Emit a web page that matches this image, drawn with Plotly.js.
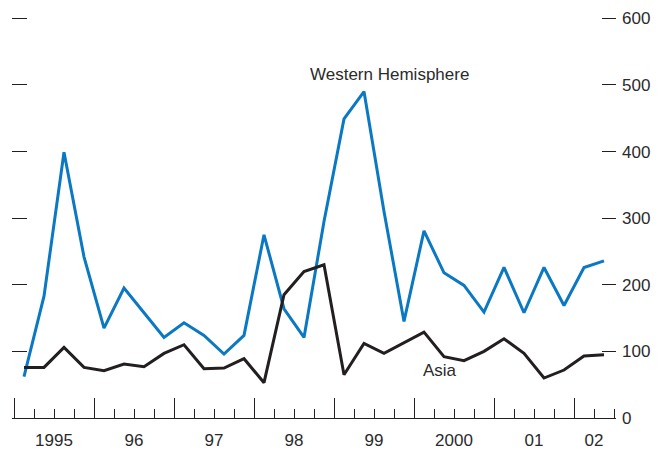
<!DOCTYPE html>
<html>
<head>
<meta charset="utf-8">
<script src="https://cdn.plot.ly/plotly-3.0.1.min.js"></script>
<style>html,body{margin:0;padding:0;background:#fff;}#chart{width:662px;height:451px;}</style>
</head>
<body>
<div id="chart"></div>
<script>
// Quarterly observations, 1995Q1 .. 2002Q2
const quarters = ["1995Q1","1995Q2","1995Q3","1995Q4","1996Q1","1996Q2","1996Q3","1996Q4",
  "1997Q1","1997Q2","1997Q3","1997Q4","1998Q1","1998Q2","1998Q3","1998Q4",
  "1999Q1","1999Q2","1999Q3","1999Q4","2000Q1","2000Q2","2000Q3","2000Q4",
  "2001Q1","2001Q2","2001Q3","2001Q4","2002Q1","2002Q2"];
const westernHemisphere = [62,183,399,242,135,195,158,121,143,124,96,124,275,164,121,295,
  449,490,310,145,281,218,199,159,226,158,226,169,226,236];
const asia = [76,76,106,76,71,81,77,97,110,74,75,89,53,185,220,230,
  65,112,97,113,129,92,86,100,119,97,60,72,93,95];
const yearLabels = ["1995","96","97","98","99","2000","01","02"];
const yTicks = [0,100,200,300,400,500,600];

const idx = quarters.map((q,i)=>i);
const yearBounds = yearLabels.map((y,i)=>i*4-0.5);
const yearCenters = yearLabels.map((y,i)=> i < yearLabels.length-1 ? i*4+1.5 : i*4+0.5);

const FONT = '"Liberation Sans Narrow", "Arial Narrow", "Liberation Sans", Arial, sans-serif';
const TXT = '#2b2b2b';
const FS = 17;

const data = [
  {x: idx, y: westernHemisphere, type:'scatter', mode:'lines', line:{color:'#0a78c2', width:3}, hoverinfo:'skip'},
  {x: idx, y: asia, type:'scatter', mode:'lines', line:{color:'#231f20', width:3}, hoverinfo:'skip'},
  {x: yearCenters, y: yearCenters.map(()=>null), xaxis:'x2', yaxis:'y2', type:'scatter', mode:'lines', showlegend:false, hoverinfo:'skip'}
];

const XR = [-0.6, 29.6];
const YR = [0, 602];

const layout = {
  width: 662, height: 451,
  margin: {l:12, r:46, t:17, b:33, pad:0},
  paper_bgcolor:'#fff', plot_bgcolor:'#fff',
  showlegend:false,
  font:{family:FONT, size:FS, color:TXT},
  xaxis: {
    range:XR, showgrid:false, zeroline:false,
    showline:true, linecolor:'#231f20', linewidth:1,
    tickmode:'array', tickvals: yearBounds, ticktext: yearBounds.map(()=>''),
    ticks:'inside', ticklen:20, tickwidth:1, tickcolor:'#231f20',
    minor:{tickmode:'linear', tick0:0.5, dtick:1, ticks:'inside', ticklen:9, tickwidth:1, tickcolor:'#231f20'},
    fixedrange:true
  },
  xaxis2: {
    overlaying:'x', side:'bottom', range:XR, showgrid:false, zeroline:false, showline:false,
    tickmode:'array', tickvals: yearCenters, ticktext: yearLabels, ticks:'',
    tickfont:{family:FONT, size:FS, color:TXT}, ticklabelstandoff:10, fixedrange:true
  },
  yaxis: {
    range:YR, showgrid:false, zeroline:false, showline:false,
    tickmode:'array', tickvals: yTicks, showticklabels:false,
    ticks:'inside', ticklen:15, tickwidth:1, tickcolor:'#231f20', fixedrange:true
  },
  yaxis2: {
    overlaying:'y', side:'right', range:YR, showgrid:false, zeroline:false, showline:false,
    tickmode:'array', tickvals: yTicks, ticktext: yTicks.map(String),
    ticks:'inside', ticklen:14, tickwidth:1, tickcolor:'#231f20',
    tickfont:{family:FONT, size:FS, color:TXT}, ticklabelstandoff:5, fixedrange:true
  },
  annotations: [
    {x:18.25, y:515, xref:'x', yref:'y', text:'Western Hemisphere', showarrow:false, font:{family:FONT, size:FS, color:TXT}},
    {x:20.8, y:72, xref:'x', yref:'y', text:'Asia', showarrow:false, font:{family:FONT, size:FS, color:TXT}}
  ]
};

Plotly.newPlot('chart', data, layout, {staticPlot:true, displayModeBar:false});
</script>
</body>
</html>
